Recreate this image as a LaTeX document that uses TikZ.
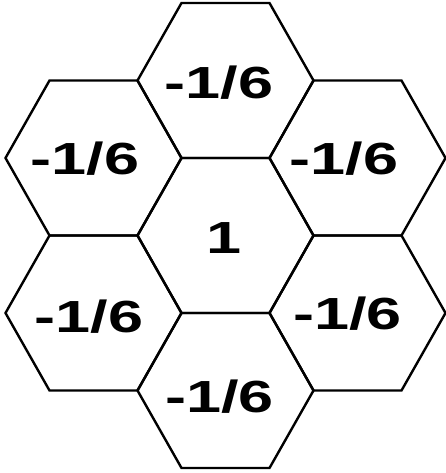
\documentclass[tikz,border=0pt]{standalone}
\usepackage{fontspec}
\newfontfamily\lblfont{Liberation Sans}[FakeStretch=1.4]
\tikzset{
  hexline/.style={draw=black, line width=2.4pt, line join=miter},
  lbl/.style={anchor=base, inner sep=0pt, font=\lblfont\bfseries\fontsize{45}{50}\selectfont}
}
\newcommand\hexat[1]{%
  \draw[hexline] (#1) +(-88,0) -- +(-44,-77.5) -- +(44,-77.5) -- +(88,0)
    -- +(44,77.5) -- +(-44,77.5) -- cycle;}
\begin{document}
\begin{tikzpicture}[x=1pt,y=-1pt]
  \useasboundingbox[fill=white] (0,0) rectangle (446,473);
  % hexagon centres
  \coordinate (hc) at (225.5,235.5);
  \coordinate (ht) at (225.5,80.5);
  \coordinate (hb) at (225.5,390.5);
  \coordinate (hul) at (93.5,158);
  \coordinate (hur) at (357.5,158);
  \coordinate (hll) at (93.5,313);
  \coordinate (hlr) at (357.5,313);
  \foreach \h in {hc,ht,hb,hul,hur,hll,hlr} {\hexat{\h}}
  % labels
  \node[lbl] (lt)  at (219,98.5)  {-1/6};
  \node[lbl] (lul) at (85,174.5)  {-1/6};
  \node[lbl] (lur) at (344,174)   {-1/6};
  \node[lbl] (lc)  at (224,253)   {1};
  \node[lbl] (lll) at (89,332)    {-1/6};
  \node[lbl] (llr) at (347.5,329) {-1/6};
  \node[lbl] (lb)  at (219.5,412) {-1/6};
\end{tikzpicture}
\end{document}
